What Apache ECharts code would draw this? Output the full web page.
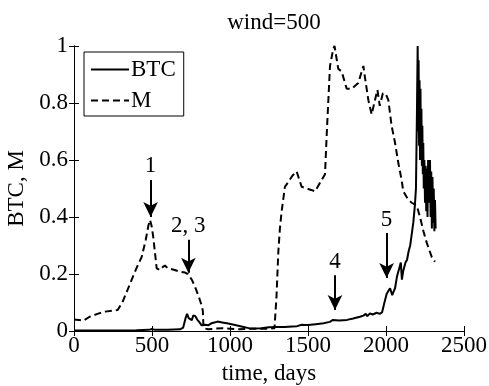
<!DOCTYPE html>
<html>
<head>
<meta charset="utf-8">
<script src="https://cdn.jsdelivr.net/npm/echarts@6/dist/echarts.min.js"></script>
<style>
  html, body { margin: 0; padding: 0; background: #fff; }
  #chart { width: 489px; height: 386px; }
</style>
</head>
<body>
<div id="chart"></div>
<script>
// x ticks / y ticks
var xTicks = [0, 500, 1000, 1500, 2000, 2500];
var yTicks = [0, 0.2, 0.4, 0.6, 0.8, 1];

// BTC (solid)
var btcDays = [0, 100, 200, 300, 400, 480, 500, 520, 600, 680, 700, 715, 725, 735, 745, 755, 765, 778, 790, 805, 818, 840, 860, 880, 900, 920, 950, 980, 1010, 1040, 1080, 1120, 1160, 1200, 1250, 1300, 1350, 1400, 1430, 1460, 1480, 1500, 1550, 1600, 1640, 1660, 1700, 1750, 1790, 1833, 1855, 1870, 1880, 1897, 1915, 1940, 1960, 1975, 1990, 2004, 2015, 2026, 2040, 2050, 2058, 2070, 2085, 2095, 2102, 2110, 2125, 2135, 2145, 2155, 2165, 2175, 2185, 2192, 2198, 2203, 2206, 2209, 2212, 2215, 2218, 2221, 2224, 2227, 2230, 2233, 2236, 2239, 2242, 2246, 2250, 2254, 2258, 2262, 2266, 2270, 2274, 2278, 2282, 2286, 2290, 2294, 2298, 2302, 2306, 2310, 2314, 2318];
var btcVals = [0.002, 0.002, 0.002, 0.002, 0.003, 0.004, 0.007, 0.004, 0.004, 0.006, 0.012, 0.045, 0.06, 0.045, 0.05, 0.038, 0.055, 0.052, 0.04, 0.03, 0.02, 0.022, 0.02, 0.027, 0.03, 0.033, 0.03, 0.027, 0.024, 0.02, 0.015, 0.01, 0.009, 0.01, 0.013, 0.014, 0.014, 0.016, 0.017, 0.022, 0.021, 0.021, 0.024, 0.027, 0.032, 0.039, 0.037, 0.039, 0.044, 0.05, 0.054, 0.06, 0.052, 0.062, 0.058, 0.064, 0.06, 0.066, 0.1, 0.13, 0.14, 0.15, 0.126, 0.14, 0.15, 0.19, 0.22, 0.24, 0.18, 0.21, 0.24, 0.25, 0.28, 0.3, 0.34, 0.38, 0.44, 0.5, 0.75, 1.0, 0.7, 0.95, 0.65, 0.88, 0.6, 0.85, 0.62, 0.78, 0.58, 0.72, 0.55, 0.66, 0.5, 0.6, 0.45, 0.58, 0.42, 0.57, 0.4, 0.6, 0.45, 0.55, 0.6, 0.4, 0.56, 0.36, 0.54, 0.38, 0.5, 0.35, 0.46, 0.36];

// M (dashed)
var mDays = [0, 30, 60, 100, 150, 200, 250, 280, 310, 340, 370, 400, 434, 460, 477, 487, 497, 508, 520, 530, 551, 570, 583, 600, 640, 679, 712, 730, 755, 776, 800, 818, 826, 830, 860, 900, 950, 1000, 1050, 1100, 1150, 1200, 1260, 1285, 1298, 1310, 1320, 1331, 1352, 1370, 1400, 1427, 1445, 1459, 1491, 1520, 1545, 1577, 1609, 1620, 1641, 1662, 1670, 1685, 1694, 1716, 1748, 1780, 1822, 1855, 1865, 1887, 1908, 1929, 1945, 1960, 1980, 2000, 2015, 2036, 2058, 2079, 2100, 2111, 2143, 2165, 2197, 2218, 2240, 2261, 2293, 2314];
var mVals = [0.04, 0.039, 0.036, 0.05, 0.06, 0.068, 0.072, 0.074, 0.1, 0.14, 0.18, 0.22, 0.26, 0.32, 0.37, 0.39, 0.37, 0.33, 0.27, 0.22, 0.214, 0.225, 0.23, 0.22, 0.215, 0.208, 0.205, 0.2, 0.18, 0.155, 0.12, 0.09, 0.07, 0.01, 0.006, 0.008, 0.01, 0.008, 0.006, 0.007, 0.008, 0.008, 0.008, 0.01, 0.12, 0.28, 0.36, 0.42, 0.506, 0.52, 0.545, 0.56, 0.53, 0.506, 0.5, 0.495, 0.49, 0.52, 0.55, 0.69, 0.93, 0.99, 1.0, 0.95, 0.92, 0.91, 0.85, 0.85, 0.87, 0.93, 0.89, 0.81, 0.76, 0.81, 0.846, 0.79, 0.834, 0.83, 0.81, 0.72, 0.66, 0.59, 0.53, 0.49, 0.46, 0.45, 0.44, 0.4, 0.35, 0.31, 0.26, 0.243];

// arrow annotations: label, day, start value, end (tip) value
var arrowLabels = ['1', '2, 3', '4', '5'];
var arrowDays = [491, 733, 1673, 2004];
var arrowFrom = [0.53, 0.32, 0.196, 0.344];
var arrowTo = [0.40, 0.204, 0.074, 0.186];

function zip(a, b) {
    var out = [];
    for (var i = 0; i < a.length; i++) out.push([a[i], b[i]]);
    return out;
}

var font = 'Liberation Serif';

var arrowData = [];
for (var i = 0; i < arrowLabels.length; i++) {
    arrowData.push([
        {coord: [arrowDays[i], arrowFrom[i]], name: arrowLabels[i]},
        {coord: [arrowDays[i], arrowTo[i]]}
    ]);
}

function plain(v) { return String(v); }

var chart = echarts.init(document.getElementById('chart'));

var option = {
    animation: false,
    backgroundColor: '#fff',
    textStyle: {fontFamily: font},
    title: {
        text: 'wind=500',
        left: 269,
        textAlign: 'center',
        top: 6,
        textStyle: {fontFamily: font, fontSize: 23, fontWeight: 'normal', color: '#000'}
    },
    grid: {left: 74, top: 46, right: 25, bottom: 55, outerBoundsMode: 'none', containLabel: false},
    legend: {
        data: ['BTC', 'M'],
        orient: 'vertical',
        left: 84,
        top: 52,
        padding: [6, 8, 4, 6],
        itemGap: 8,
        itemWidth: 38,
        itemHeight: 14,
        borderColor: '#000',
        borderWidth: 1,
        borderRadius: 0,
        backgroundColor: '#fff',
        itemStyle: {opacity: 0},
        textStyle: {fontFamily: font, fontSize: 23, color: '#000', padding: [0, 0, 0, -3]}
    },
    xAxis: [{
        type: 'value',
        min: 0, max: 2500, interval: 500,
        name: 'time, days',
        nameLocation: 'middle',
        nameGap: 31,
        nameTextStyle: {fontFamily: font, fontSize: 23, color: '#000'},
        axisLine: {lineStyle: {color: '#000', width: 1}},
        axisTick: {inside: true, length: 5, lineStyle: {color: '#000'}},
        axisLabel: {fontFamily: font, fontSize: 23, color: '#000', margin: 3, formatter: plain},
        splitLine: {show: false}
    }, {
        type: 'value', position: 'top',
        min: 0, max: 2500, interval: 500,
        axisLine: {lineStyle: {color: '#000', width: 1}},
        axisTick: {inside: true, length: 5, lineStyle: {color: '#000'}},
        axisLabel: {show: false},
        splitLine: {show: false}
    }],
    yAxis: [{
        type: 'value',
        min: 0, max: 1, interval: 0.2,
        name: 'BTC, M',
        nameLocation: 'middle',
        nameGap: 43,
        nameTextStyle: {fontFamily: font, fontSize: 23, color: '#000'},
        axisLine: {show: true, lineStyle: {color: '#000', width: 1}},
        axisTick: {show: true, inside: true, length: 5, lineStyle: {color: '#000'}},
        axisLabel: {fontFamily: font, fontSize: 23, color: '#000', margin: 6, formatter: plain},
        splitLine: {show: false}
    }, {
        type: 'value', position: 'right',
        min: 0, max: 1, interval: 0.2,
        axisLine: {show: true, lineStyle: {color: '#000', width: 1}},
        axisTick: {show: true, inside: true, length: 5, lineStyle: {color: '#000'}},
        axisLabel: {show: false},
        splitLine: {show: false}
    }],
    series: [
        {
            name: 'M',
            type: 'line',
            data: zip(mDays, mVals),
            showSymbol: false,
            symbol: 'none',
            lineStyle: {color: '#000', width: 2, type: [7, 4]},
            itemStyle: {color: '#000'},
            z: 2
        },
        {
            name: 'BTC',
            type: 'line',
            data: zip(btcDays, btcVals),
            showSymbol: false,
            symbol: 'none',
            lineStyle: {color: '#000', width: 2, type: 'solid'},
            itemStyle: {color: '#000'},
            z: 3
        },
        {
            name: 'arrows',
            type: 'line',
            data: [],
            markLine: {
                silent: true,
                symbol: ['none', 'arrow'],
                symbolSize: [11, 15],
                lineStyle: {color: '#000', width: 2, type: 'solid'},
                label: {
                    show: true,
                    position: 'start',
                    distance: 2,
                    formatter: '{b}',
                    fontFamily: font,
                    fontSize: 23,
                    color: '#000'
                },
                data: arrowData
            }
        }
    ]
};

chart.setOption(option);
</script>
</body>
</html>
